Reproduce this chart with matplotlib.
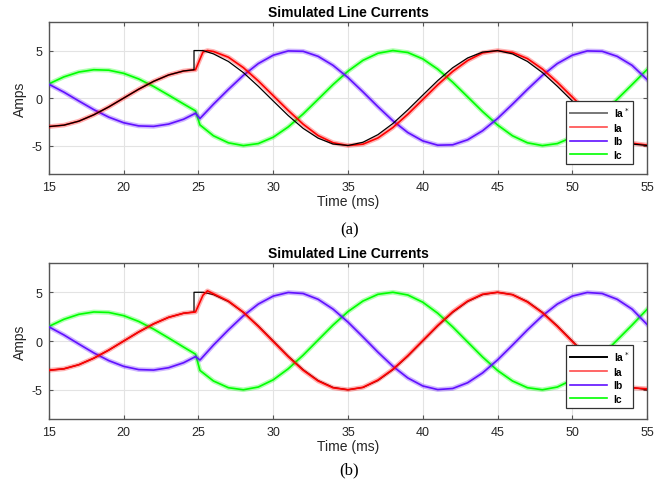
import matplotlib
matplotlib.use('Agg')
import matplotlib.pyplot as plt
import matplotlib.patheffects as pe

plt.rcParams['font.family'] = ['Liberation Sans', 'DejaVu Sans']
plt.rcParams['axes.unicode_minus'] = False

# time axis (ms)
t_pre = [15, 16, 17, 18, 19, 20, 21, 22, 23, 24, 24.8]
t_post = [26, 27, 28, 29, 30, 31, 32, 33, 34, 35, 36, 37, 38, 39, 40,
          41, 42, 43, 44, 45, 46, 47, 48, 49, 50, 51, 52, 53, 54, 55]

# before the step (same in both panels)
ia_pre = [-3.0, -2.85, -2.43, -1.76, -0.93, 0.0, 0.93, 1.76, 2.43, 2.85, 2.98]
ib_pre = [1.45, 0.62, -0.31, -1.22, -2.01, -2.6, -2.93, -2.98, -2.74, -2.23, -1.6]
ic_pre = [1.5, 2.23, 2.74, 2.98, 2.93, 2.6, 2.01, 1.22, 0.31, -0.62, -1.35]

# reference Ia*
t_ref = [15, 16, 17, 18, 19, 20, 21, 22, 23, 24, 24.7, 24.7, 25.3] + t_post
ia_ref_a = ia_pre[:10] + [2.98, 5.0, 5.0] + [
    4.65, 3.85, 2.68, 1.24, -0.31, -1.84, -3.19, -4.22, -4.84, -4.99,
    -4.65, -3.85, -2.68, -1.24, 0.31, 1.84, 3.19, 4.22, 4.84, 4.99,
    4.65, 3.85, 2.68, 1.24, -0.31, -1.84, -3.19, -4.22, -4.84, -4.99]
ia_ref_b = ia_pre[:10] + [2.98, 5.0, 5.0] + [
    4.76, 4.05, 2.94, 1.55, 0.0, -1.55, -2.94, -4.05, -4.76, -5.0,
    -4.76, -4.05, -2.94, -1.55, 0.0, 1.55, 2.94, 4.05, 4.76, 5.0,
    4.76, 4.05, 2.94, 1.55, 0.0, -1.55, -2.94, -4.05, -4.76, -5.0]

# measured Ia
t_ia = t_pre + [25.3, 25.6] + t_post
ia_a = ia_pre + [4.85, 5.0] + [
    4.9, 4.3, 3.2, 1.8, 0.25, -1.3, -2.75, -3.95, -4.7, -5.0,
    -4.85, -4.2, -3.1, -1.7, -0.15, 1.4, 2.8, 3.95, 4.75, 5.0,
    4.8, 4.15, 3.05, 1.65, 0.1, -1.45, -2.85, -4.0, -4.75, -4.95]
ia_b = ia_pre + [4.7, 5.15] + [
    4.85, 4.1, 2.95, 1.5, -0.05, -1.6, -3.0, -4.1, -4.8, -5.0,
    -4.75, -4.0, -2.9, -1.5, 0.05, 1.6, 3.0, 4.1, 4.8, 5.0,
    4.75, 4.0, 2.9, 1.5, -0.05, -1.6, -3.0, -4.1, -4.8, -4.9]

# measured Ib, Ic
t_bc = t_pre + [25.1] + t_post
ib_a = ib_pre + [-2.15] + [
    -0.65, 0.91, 2.39, 3.63, 4.51, 4.96, 4.92, 4.39, 3.44, 2.15,
    0.65, -0.91, -2.39, -3.63, -4.51, -4.96, -4.92, -4.39, -3.44, -2.15,
    -0.65, 0.91, 2.39, 3.63, 4.51, 4.96, 4.92, 4.39, 3.44, 1.95]
ic_a = ic_pre + [-2.83] + [
    -3.97, -4.71, -5.0, -4.79, -4.12, -3.04, -1.67, -0.13, 1.42, 2.83,
    3.97, 4.71, 5.0, 4.79, 4.12, 3.04, 1.67, 0.13, -1.42, -2.83,
    -3.97, -4.71, -5.0, -4.79, -4.12, -3.04, -1.67, -0.13, 1.42, 3.0]
ib_b = ib_pre + [-1.95] + [
    -0.42, 1.14, 2.59, 3.79, 4.61, 4.98, 4.87, 4.28, 3.27, 1.94,
    0.42, -1.14, -2.59, -3.79, -4.61, -4.98, -4.87, -4.28, -3.27, -1.94,
    -0.42, 1.14, 2.59, 3.79, 4.61, 4.98, 4.87, 4.28, 3.27, 1.7]
ic_b = ic_pre + [-3.02] + [
    -4.1, -4.79, -5.0, -4.72, -3.98, -2.85, -1.45, 0.1, 1.64, 3.02,
    4.1, 4.79, 5.0, 4.72, 3.98, 2.85, 1.45, -0.1, -1.64, -3.02,
    -4.1, -4.79, -5.0, -4.72, -3.98, -2.85, -1.45, 0.1, 1.64, 3.25]

RED = '#ff0000'
BLUE = '#6010ff'
GREEN = '#00ff00'
# ripple on the measured currents looks like a fuzzy halo
fuzz = lambda c: [pe.Stroke(linewidth=3.4, foreground=c, alpha=0.3), pe.Normal()]

fig = plt.figure(figsize=(6.69, 4.85), dpi=100)
ax_a = fig.add_axes([0.0732, 0.639, 0.894, 0.3135])
ax_b = fig.add_axes([0.0732, 0.134, 0.894, 0.3216])

panels = [
    (ax_a, ia_ref_a, ia_a, ib_a, ic_a, 0.066, True, '#777777'),
    (ax_b, ia_ref_b, ia_b, ib_b, ic_b, 0.07, False, 'black'),
]

for ax, ref, ia, ib, ic, leg_y, ref_on_top, ref_leg_col in panels:
    ax.plot(t_ref, ref, color='black', lw=0.9, zorder=5 if ref_on_top else 2)
    ax.plot(t_bc, ic, color=GREEN, lw=1.2, path_effects=fuzz(GREEN), zorder=3)
    ax.plot(t_bc, ib, color=BLUE, lw=1.2, path_effects=fuzz(BLUE), zorder=3)
    ax.plot(t_ia, ia, color=RED, lw=1.2, path_effects=fuzz(RED), zorder=4)

    ax.set_xlim(15, 55)
    ax.set_ylim(-8, 8)
    ax.set_xticks(range(15, 56, 5))
    ax.set_yticks([-5, 0, 5])
    ax.grid(True, color='#e3e3e3', lw=0.8)
    ax.set_axisbelow(True)
    ax.tick_params(direction='in', top=True, right=True, length=3,
                   labelsize=9, colors='#555555', labelcolor='#262626', pad=5)
    for s in ax.spines.values():
        s.set_color('#555555')
        s.set_linewidth(1.0)

    ax.set_title('Simulated Line Currents', fontsize=10, fontweight='bold', pad=4)
    ax.set_xlabel('Time (ms)', fontsize=10, labelpad=1, color='#262626')
    ax.set_ylabel('Amps', fontsize=10, labelpad=3, color='#262626')

    h = [plt.Line2D([], [], color=ref_leg_col, lw=1.4),
         plt.Line2D([], [], color=RED, lw=1.2, alpha=0.7),
         plt.Line2D([], [], color=BLUE, lw=1.2),
         plt.Line2D([], [], color=GREEN, lw=1.2)]
    leg = ax.legend(h, ['Ia$^*$', 'Ia', 'Ib', 'Ic'], loc='lower right',
                    bbox_to_anchor=(0.977, leg_y), prop={'weight': 'bold', 'size': 7.5},
                    fancybox=False, framealpha=1, edgecolor='#333333',
                    handlelength=3.6, labelspacing=0.35, borderpad=0.4,
                    handletextpad=0.6, borderaxespad=0)
    leg.get_frame().set_linewidth(0.9)
    leg.set_zorder(10)

fig.text(0.522, 1 - 230 / 485, '(a)', ha='center', va='center', fontsize=12,
         family=['Liberation Serif'])
fig.text(0.522, 1 - 470 / 485, '(b)', ha='center', va='center', fontsize=12,
         family=['Liberation Serif'])

plt.savefig('out.png', dpi=100)
plt.close()
